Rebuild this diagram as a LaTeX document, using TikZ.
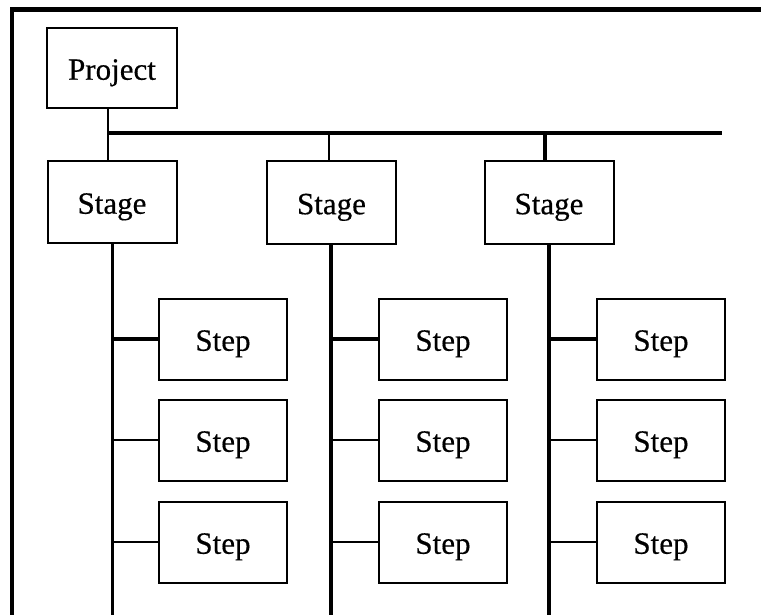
\documentclass[tikz,border=0pt]{standalone}
\usepackage{fontspec}
\setmainfont{Liberation Serif}
\newfontfamily\boxfont[FakeBold=0.4]{Liberation Serif}
\begin{document}
\begin{tikzpicture}[x=1pt,y=-1pt,
  box/.style={draw=black,line width=2pt,rectangle,inner sep=0pt,text height=23.5pt,text depth=0pt,font=\boxfont\fontsize{31}{36}\selectfont},
  projbox/.style={box,minimum width=130pt,minimum height=80pt},
  stagebox/.style={box,minimum width=129pt,minimum height=82pt},
  stepbox/.style={box,minimum width=128pt,minimum height=81pt},
  thin line/.style={line width=2pt},
  thick line/.style={line width=4pt},
  mid line/.style={line width=3.5pt}]
\useasboundingbox (0,0) rectangle (761,615);
% frame
\coordinate (fb) at (12,615);
\coordinate (fc) at (12,9.5);
\coordinate (fr) at (761,9.5);
\draw[line width=4.5pt] (fb) -- (fc) -- (fr);
% nodes
\node[projbox] (P) at (112,68) {Project};
\node[stagebox] (S1) at (112,202) {Stage};
\node[stagebox] (S2) at (331.5,202.5) {Stage};
\node[stagebox] (S3) at (549,202.5) {Stage};
\foreach \c/\x in {1/223,2/443,3/661}{
  \node[stepbox] (T\c1) at (\x,339) {Step};
  \node[stepbox] (T\c2) at (\x,440) {Step};
  \node[stepbox] (T\c3) at (\x,542) {Step};
}
% bus
\coordinate (b1) at (108,133);
\coordinate (b2) at (329,133);
\coordinate (b3) at (545,133);
\coordinate (be) at (722,133);
\draw[thin line] (b1 |- P.south) -- (b1);
\draw[thick line] (b1) -- (be);
\draw[thin line] (b1) -- (b1 |- S1.north);
\draw[thin line] (b2) -- (b2 |- S2.north);
\draw[thick line] (b3) -- (b3 |- S3.north);
% stage verticals
\coordinate (e1) at (112,615);
\coordinate (e2) at (331,615);
\coordinate (e3) at (549,615);
\draw[line width=3pt] (e1 |- S1.south) -- (e1);
\draw[mid line] (e2 |- S2.south) -- (e2);
\draw[mid line] (e3 |- S3.south) -- (e3);
% step connectors
\foreach \c in {1,2,3}{
  \draw[thick line] (T\c1.west) -- (T\c1.west -| e\c);
  \draw[thin line] (T\c2.west) -- (T\c2.west -| e\c);
  \draw[thin line] (T\c3.west) -- (T\c3.west -| e\c);
}
\end{tikzpicture}
\end{document}
